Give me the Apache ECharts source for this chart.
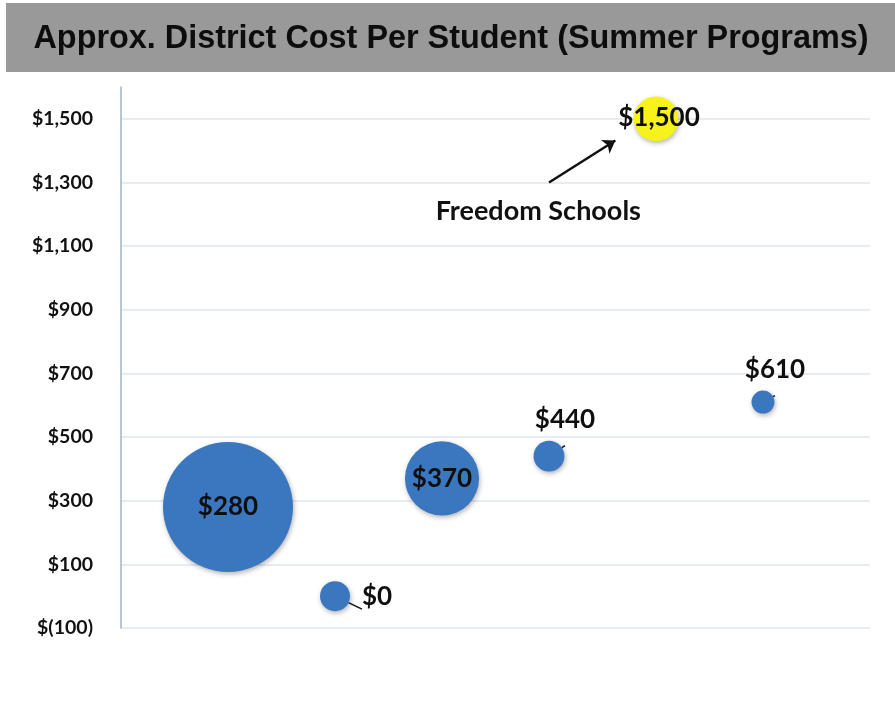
<!DOCTYPE html>
<html>
<head>
<meta charset="utf-8">
<script src="https://cdn.jsdelivr.net/npm/echarts@6/dist/echarts.min.js"></script>
<style>
html,body{margin:0;padding:0;background:#fff;}
#c{width:895px;height:721px;}
</style>
</head>
<body>
<div id="c"></div>
<script>
// ---- data ----
const titleText = 'Approx. District Cost Per Student (Summer Programs)';
const programX = [1, 2, 3, 4, 5, 6];
const costPerStudent = [280, 0, 370, 440, 1500, 610];
const studentsServed = [3200, 170, 1040, 180, 380, 100];
const highlightIndex = 4; // Freedom Schools
const yTickValues = [-100, 100, 300, 500, 700, 900, 1100, 1300, 1500];
const annotationText = 'Freedom Schools';
const annotationTextAt = [3.9, 1210];
const arrowFrom = [4.0, 1300];
const arrowTo = [4.62, 1432];

function money(v) {
  if (v < 0) return '$(' + Math.abs(v).toLocaleString('en-US') + ')';
  return '$' + v.toLocaleString('en-US');
}

const labelFont = 'Lato';
const blue = '#3b77bf';
const yellow = '#f7f21a';

// label placement per point
const labelPlacement = [
  { position: 'inside' },
  { position: 'right', distance: 12, line: true },
  { position: 'inside' },
  { position: 'top', distance: 8, offset: [16, 0], line: true },
  { position: 'inside', offset: [3, -1] },
  { position: 'top', distance: 8, offset: [12, 0], line: true }
];

const bubbleLabel = {
  show: true,
  color: '#0f0f0f',
  fontFamily: labelFont, fontWeight: 'bold', fontSize: 26,
  textBorderWidth: 0
};

const maxStudents = Math.max(...studentsServed);
const bubbleData = programX.map((x, i) => {
  const p = labelPlacement[i];
  return {
    value: [x, costPerStudent[i], studentsServed[i]],
    itemStyle: { color: i === highlightIndex ? yellow : blue },
    label: Object.assign({}, bubbleLabel, {
      position: p.position,
      distance: p.distance || 5,
      offset: p.offset || [0, 0]
    }),
    labelLine: { show: !!p.line }
  };
});

const chart = echarts.init(document.getElementById('c'));
chart.setOption({
  animation: false,
  backgroundColor: '#fff',
  graphic: [
    { type: 'rect', left: 6, top: 3, shape: { width: 889, height: 69 }, style: { fill: '#999999' }, z: 0 },
    { type: 'text', x: 451, y: 39, style: { text: titleText, fill: '#0d0d0d', font: 'bold 32.4px "Liberation Sans", Arial, sans-serif', align: 'center', verticalAlign: 'middle' }, z: 1 }
  ],
  grid: { left: 121, right: 25, top: 87, bottom: 93 },
  xAxis: { type: 'value', min: 0, max: 7, show: false },
  yAxis: {
    type: 'value', min: -100, max: 1600, interval: 200,
    axisLine: { show: true, lineStyle: { color: '#a3b0cf', width: 1.5 } },
    axisTick: { show: false },
    axisLabel: {
      showMaxLabel: false,
      margin: 28,
      color: '#111',
      fontFamily: labelFont, fontWeight: 'bold', fontSize: 19.5,
      formatter: v => yTickValues.includes(v) ? money(v) : ''
    },
    splitLine: { show: true, showMaxLine: false, lineStyle: { color: '#dfe5ef', width: 1.5 } }
  },
  series: [
    {
      type: 'scatter',
      data: bubbleData,
      symbolSize: d => 130 * Math.sqrt(d[2] / maxStudents),
      itemStyle: { opacity: 1, shadowBlur: 5, shadowColor: 'rgba(0,0,0,0.3)', shadowOffsetX: 1, shadowOffsetY: 2 },
      label: Object.assign({}, bubbleLabel, { formatter: p => money(p.value[1]) }),
      labelLine: { lineStyle: { color: '#111', width: 1.5 } },
      emphasis: { disabled: true },
      markLine: {
        silent: true,
        symbol: ['none', 'arrow'],
        symbolSize: [12, 12],
        label: { show: false },
        lineStyle: { color: '#111', width: 2.5, type: 'solid' },
        data: [[{ coord: arrowFrom }, { coord: arrowTo }]]
      },
      markPoint: {
        silent: true,
        symbol: 'circle', symbolSize: 0,
        label: {
          show: true, position: 'inside',
          formatter: annotationText,
          color: '#111', fontFamily: labelFont, fontWeight: 'bold', fontSize: 27
        },
        data: [{ coord: annotationTextAt }]
      }
    }
  ]
});
</script>
</body>
</html>
